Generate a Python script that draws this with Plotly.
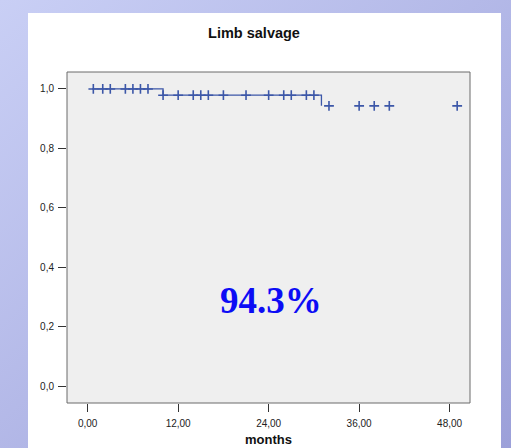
import base64
import plotly.graph_objects as go

# ---- data ----
step_times = [0.6, 10, 31]
step_surv = [1.0, 0.979, 0.943]
censor_t_1 = [0.75, 2, 3, 5, 6, 7, 8]
censor_s_1 = [1.0] * len(censor_t_1)
censor_t_2 = [10, 12, 14, 15, 16, 18, 21, 24, 26, 27, 29, 30]
censor_s_2 = [0.979] * len(censor_t_2)
censor_t_3 = [32, 36, 38, 40, 49]
censor_s_3 = [0.943] * len(censor_t_3)
x_tickvals = [0, 12, 24, 36, 48]
x_ticktext = ["0,00", "12,00", "24,00", "36,00", "48,00"]
y_tickvals = [0.0, 0.2, 0.4, 0.6, 0.8, 1.0]
y_ticktext = ["0,0", "0,2", "0,4", "0,6", "0,8", "1,0"]
salvage_label = "94.3%"

W, H = 511, 448
ML, MR, MT, MB = 67, 41, 72, 45
PW, PH = W - ML - MR, H - MT - MB

LINE_COLOR = "#3c57a8"

fig = go.Figure()
fig.add_trace(go.Scatter(
    x=step_times, y=step_surv, mode="lines", line_shape="hv",
    line=dict(color=LINE_COLOR, width=1.3), hoverinfo="skip", showlegend=False))
for ct, cs in [(censor_t_1, censor_s_1), (censor_t_2, censor_s_2), (censor_t_3, censor_s_3)]:
    fig.add_trace(go.Scatter(
        x=ct, y=cs, mode="markers",
        marker=dict(symbol="cross-thin", size=7, line=dict(color=LINE_COLOR, width=1.6)),
        showlegend=False))

svg = f'''<svg xmlns="http://www.w3.org/2000/svg" width="{W}" height="{H}" viewBox="0 0 {W} {H}" preserveAspectRatio="none">
<defs><linearGradient id="g" x1="0" y1="0" x2="1" y2="1">
<stop offset="0" stop-color="#c9cff5"/><stop offset="1" stop-color="#9ca0d9"/></linearGradient></defs>
<rect x="0" y="0" width="{W}" height="{H}" fill="url(#g)"/>
<rect x="28" y="13" width="473" height="{H-13}" fill="#ffffff"/>
</svg>'''
src = "data:image/svg+xml;base64," + base64.b64encode(svg.encode()).decode()

fig.add_layout_image(dict(
    source=src, xref="paper", yref="paper",
    x=-ML / PW, y=1 + MT / PH, sizex=W / PW, sizey=H / PH,
    xanchor="left", yanchor="top", sizing="stretch", layer="below"))

fig.add_shape(type="rect", xref="x domain", yref="y domain", x0=0, x1=1, y0=0, y1=1,
              fillcolor="#efefef", line=dict(color="#6b6b6b", width=1), layer="below")

fig.add_annotation(x=24.3, y=0.288, xref="x", yref="y", text=salvage_label, showarrow=False,
                   font=dict(family="Liberation Serif, Times New Roman, serif", size=37,
                             color="#0c0cf5", weight="bold"))

fig.update_layout(
    width=W, height=H,
    margin=dict(l=ML, r=MR, t=MT, b=MB, pad=0, autoexpand=False),
    paper_bgcolor="#ffffff", plot_bgcolor="rgba(0,0,0,0)",
    title=dict(text="<b>Limb salvage</b>", x=254 / W, xanchor="center", y=1 - 33 / H, yanchor="middle",
               font=dict(family="Liberation Sans, Arial, sans-serif", size=14.5, color="#111111")),
    font=dict(family="Liberation Sans, Arial, sans-serif", size=10, color="#222222"),
)
fig.update_xaxes(range=[-2.74, 50.7], tickvals=x_tickvals, ticktext=x_ticktext, automargin=False,
                 ticks="outside", ticklen=8, tickcolor="#333333", tickwidth=1, ticklabelstandoff=3,
                 showgrid=False, zeroline=False, showline=False,
                 title=dict(text="<b>months</b>", font=dict(size=13, color="#111111"), standoff=6))
fig.update_yaxes(range=[-0.057, 1.057], tickvals=y_tickvals, ticktext=y_ticktext, automargin=False,
                 ticks="outside", ticklen=8, tickcolor="#333333", tickwidth=1, ticklabelstandoff=2,
                 showgrid=False, zeroline=False, showline=False)

fig.write_html("out.html")
